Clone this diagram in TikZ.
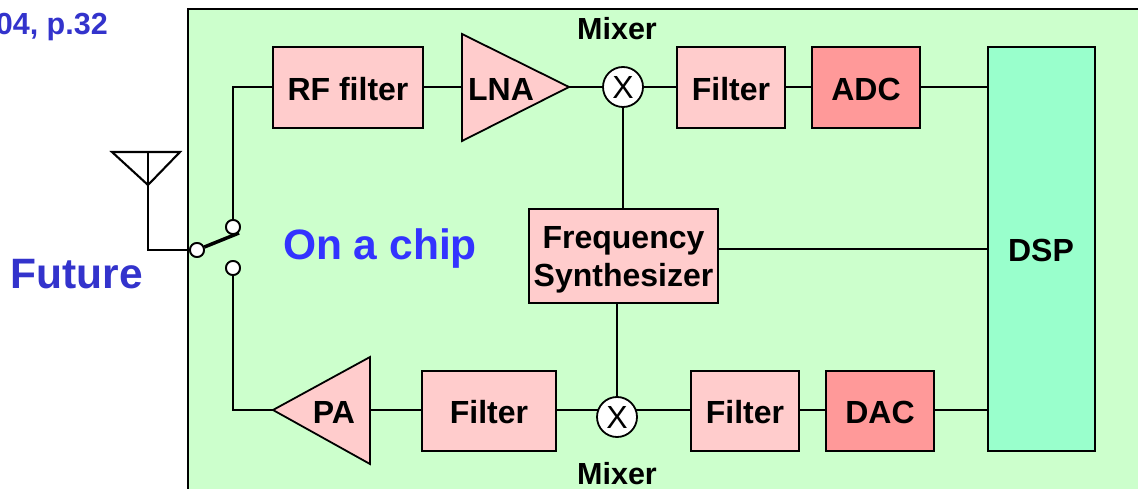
\documentclass[tikz,border=0pt]{standalone}
\usepackage{fontspec}
\setmainfont{Liberation Sans}
\definecolor{chipgreen}{HTML}{CCFFCC}
\definecolor{boxpink}{HTML}{FFCCCC}
\definecolor{convred}{HTML}{FF9999}
\definecolor{dspgreen}{HTML}{99FFCC}
\definecolor{noteblue}{HTML}{3333CC}
\definecolor{chipblue}{HTML}{3333FF}
\tikzset{
  lbl/.style={font=\fontsize{32}{36}\selectfont\bfseries, inner sep=0pt, text=black},
  blockbox/.style={draw=black, line width=1.8pt, inner sep=0pt, font=\fontsize{32}{38}\selectfont\bfseries, align=center},
  filt/.style={blockbox, fill=boxpink},
  conv/.style={blockbox, fill=convred},
  mixc/.style={draw=black, line width=1.8pt, fill=white, circle, minimum size=40pt, inner sep=0pt},
  swc/.style={draw=black, line width=1.8pt, fill=white, circle, minimum size=14pt, inner sep=0pt},
  wire/.style={draw=black, line width=2.1pt},
  tri/.style={draw=black, line width=1.8pt, fill=boxpink, line join=miter},
}
\begin{document}
\begin{tikzpicture}[x=1pt,y=-1pt]
\useasboundingbox (0,0) rectangle (1138,489);
\clip (0,0) rectangle (1138,489);
\draw[fill=chipgreen, draw=black, line width=2pt] (188,9) rectangle (1160,510);
\node[anchor=base east, font=\fontsize{30.5}{34}\selectfont\bfseries, text=noteblue, inner sep=0pt] (ref) at (108,35) {04, p.32};
\node[anchor=base, font=\fontsize{42.5}{46}\selectfont\bfseries, text=noteblue, inner sep=0pt] (future) at (77,288) {Future};
\node[anchor=base, font=\fontsize{42.5}{46}\selectfont\bfseries, text=chipblue, inner sep=0pt] (chip) at (380,259) {On a chip};
\node[lbl, anchor=base, font=\fontsize{30.5}{34}\selectfont\bfseries] (mixa) at (617,40) {Mixer};
\node[lbl, anchor=base, font=\fontsize{30.5}{34}\selectfont\bfseries] (mixb) at (617,484) {Mixer};
% blocks
\node[filt, minimum width=150pt, minimum height=81pt] (rf) at (348,87.5) {};
\node[lbl] (rft) at (348,89) {RF filter};
\node[filt, minimum width=108pt, minimum height=81pt] (f1) at (731,87.5) {};
\node[lbl] (f1t) at (731,89) {Filter};
\node[conv, minimum width=108pt, minimum height=81pt] (adc) at (866,87.5) {};
\node[lbl] (adct) at (866,89) {ADC};
\node[blockbox, fill=dspgreen, minimum width=107pt, minimum height=404pt] (dsp) at (1041.5,249) {};
\node[lbl] (dspt) at (1041,250) {DSP};
\node[filt, minimum width=189pt, minimum height=94pt] (syn) at (623.5,256) {};
\node[lbl, align=center, font=\fontsize{32}{38}\selectfont\bfseries] (synt) at (623.5,260) {Frequency\\Synthesizer};
\node[filt, minimum width=134pt, minimum height=80pt] (f2) at (489,411) {};
\node[lbl] (f2t) at (489,412) {Filter};
\node[filt, minimum width=108pt, minimum height=80pt] (f3) at (745,411) {};
\node[lbl] (f3t) at (745,412) {Filter};
\node[conv, minimum width=108pt, minimum height=80pt] (dac) at (880,411) {};
\node[lbl] (dact) at (880,412) {DAC};
% triangles
\draw[tri] (462,34) -- (569,87) -- (462,141) -- cycle;
\draw[tri] (370,357) -- (273,410) -- (370,464) -- cycle;
\node[lbl] (lna) at (501,89) {LNA};
\node[lbl] (pa) at (334,412) {PA};
\coordinate (lnain) at (462,87);
\coordinate (lnaout) at (569,87);
\coordinate (pain) at (370,410);
\coordinate (paout) at (273,410);
\coordinate (m1c) at (623,87);
\coordinate (m2c) at (617,417);
\coordinate (m2w) at (617,410);
\coordinate (upcorner) at (233,87);
\coordinate (dncorner) at (233,410);
\coordinate (synmid) at (718,249);
% switch nodes
\node[swc] (s0) at (197,250) {};
\node[swc] (s1) at (233,227) {};
\node[swc] (s2) at (233,268) {};
\coordinate (bladeend) at (239,233);
\coordinate (antbot) at (148,185);
\coordinate (antl) at (112,152);
\coordinate (antr) at (180,152);
\coordinate (anttop) at (148,152);
\coordinate (antcorner) at (148,250);
% connectors
\draw[wire, line join=miter] (antl) -- (antr) -- (antbot) -- cycle;
\draw[wire] (anttop) -- (antcorner) -- (s0);
\draw[black, line width=3.5pt] (s0) -- (bladeend);
\draw[wire] (s1) -- (upcorner) -- (rf.west |- upcorner);
\draw[wire] (s2) -- (dncorner) -- (paout);
\draw[wire] (rf.east |- lnain) -- (lnain);
\draw[wire] (lnaout) -- (m1c);
\draw[wire] (m1c) -- (f1.west |- m1c);
\draw[wire] (f1.east |- m1c) -- (adc.west |- m1c);
\draw[wire] (adc.east |- m1c) -- (dsp.west |- m1c);
\draw[wire] (m1c) -- (syn.north -| m1c);
\draw[wire] (synmid) -- (dsp.west |- synmid);
\draw[wire] (syn.south -| m2c) -- (m2c);
\draw[wire] (pain) -- (f2.west |- pain);
\draw[wire] (f2.east |- m2w) -- (f3.west |- m2w);
\draw[wire] (f3.east |- m2w) -- (dac.west |- m2w);
\draw[wire] (dac.east |- m2w) -- (dsp.west |- m2w);
% mixers over the wires
\node[mixc] (m1) at (m1c) {};
\node[mixc] (m2) at (m2c) {};
\node[font=\fontsize{32}{36}\selectfont, inner sep=0pt] (xa) at (m1c) {X};
\node[font=\fontsize{32}{36}\selectfont, inner sep=0pt] (xb) at (m2c) {X};
\node[swc] at (s0) {};
\node[swc] at (s1) {};
\node[swc] at (s2) {};
\end{tikzpicture}
\end{document}
